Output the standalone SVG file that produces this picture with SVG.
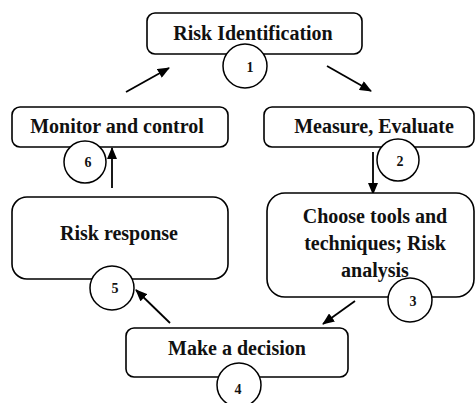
<svg xmlns="http://www.w3.org/2000/svg" width="476" height="403" viewBox="0 0 476 403">
<defs>
<style>
.box{fill:#fff;stroke:#000;stroke-width:1.6}
.num{fill:#fff;stroke:#000;stroke-width:1.5}
.lbl{font-family:"Liberation Serif","Times New Roman",serif;font-weight:bold;font-size:20px;fill:#111;text-anchor:middle}
.n{font-family:"Liberation Serif","Times New Roman",serif;font-weight:bold;font-size:14px;fill:#111;text-anchor:middle}
.conn{stroke:#000;stroke-width:1.8;fill:none;marker-end:url(#ah)}
</style>
<marker id="ah" viewBox="0 0 12 10" refX="11" refY="5" markerWidth="7" markerHeight="5.6" markerUnits="strokeWidth" orient="auto">
<path d="M0,0 L12,5 L0,10 z" fill="#000"/>
</marker>
</defs>
<rect width="476" height="403" fill="#fff"/>
<g id="connectors">
<line class="conn" x1="126" y1="92" x2="169" y2="68"/>
<line class="conn" x1="327" y1="66" x2="371" y2="91"/>
<line class="conn" x1="373" y1="152" x2="373" y2="194"/>
<line class="conn" x1="355" y1="301" x2="323" y2="324"/>
<line class="conn" x1="170" y1="323" x2="136" y2="290"/>
<line class="conn" x1="112" y1="188" x2="112" y2="148"/>
</g>
<g id="n1">
<rect class="box" x="147" y="13" width="215" height="41" rx="8"/>
<circle class="num" cx="245" cy="66" r="22"/>
<text class="lbl" x="253" y="40">Risk Identification</text>
<text class="n" x="250" y="72">1</text>
</g>
<g id="n2">
<rect class="box" x="264" y="107" width="210" height="40" rx="8"/>
<circle class="num" cx="398" cy="160" r="21"/>
<text class="lbl" x="374" y="133">Measure, Evaluate</text>
<text class="n" x="400" y="166">2</text>
</g>
<g id="n3">
<rect class="box" x="267" y="193" width="207" height="104" rx="18"/>
<circle class="num" cx="410" cy="300" r="22"/>
<text class="lbl" x="375" y="223">Choose tools and</text>
<text class="lbl" x="375" y="250">techniques; Risk</text>
<text class="lbl" x="375" y="277">analysis</text>
<text class="n" x="413" y="306">3</text>
</g>
<g id="n4">
<rect class="box" x="126" y="328" width="222" height="49" rx="8"/>
<circle class="num" cx="239" cy="385" r="22"/>
<text class="lbl" x="237" y="355">Make a decision</text>
<text class="n" x="238" y="394">4</text>
</g>
<g id="n5">
<rect class="box" x="12" y="197" width="216" height="82" rx="15"/>
<circle class="num" cx="112" cy="288" r="22"/>
<text class="lbl" x="119" y="240">Risk response</text>
<text class="n" x="115" y="293">5</text>
</g>
<g id="n6">
<rect class="box" x="12" y="107" width="216" height="40" rx="8"/>
<circle class="num" cx="85" cy="162" r="21"/>
<text class="lbl" x="117" y="133">Monitor and control</text>
<text class="n" x="88" y="167">6</text>
</g>
</svg>
